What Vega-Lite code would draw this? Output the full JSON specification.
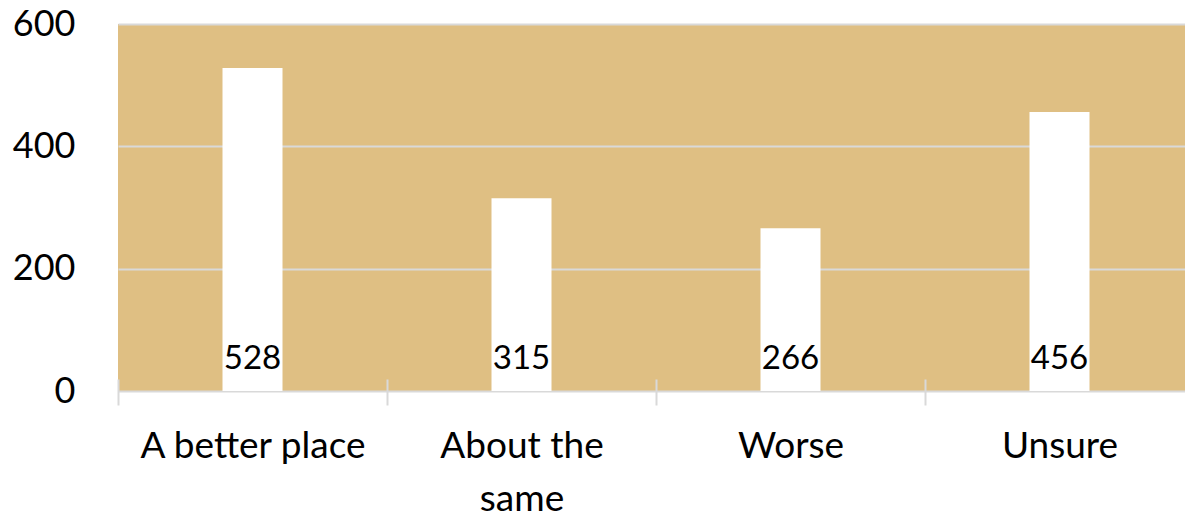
{
  "$schema": "https://vega.github.io/schema/vega-lite/v6.json",
  "autosize": {"type": "none"},
  "padding": {"left": 118, "top": 24, "right": 0, "bottom": 127},
  "width": 1076,
  "height": 367,
  "background": "white",
  "config": {
    "font": "Lato",
    "view": {"fill": "#dfbf83", "stroke": null}
  },
  "data": {
    "values": [
      {"category": "A better place", "count": 528},
      {"category": "About the same", "count": 315},
      {"category": "Worse", "count": 266},
      {"category": "Unsure", "count": 456}
    ]
  },
  "encoding": {
    "x": {
      "field": "category",
      "type": "nominal",
      "sort": null,
      "scale": {"paddingInner": 0, "paddingOuter": 0},
      "axis": {
        "title": null,
        "labelAngle": 0,
        "domain": false,
        "offset": -12,
        "tickBand": "extent",
        "tickSize": 26,
        "tickColor": "#d9d9d9",
        "tickWidth": 2,
        "labelFontSize": 37,
        "labelColor": "#000000",
        "labelPadding": 23,
        "labelLimit": 0,
        "labelLineHeight": 53,
        "labelExpr": "datum.label == 'About the same' ? ['About the', 'same'] : datum.label"
      }
    }
  },
  "layer": [
    {
      "mark": {"type": "bar", "width": 60, "color": "#ffffff"},
      "encoding": {
        "y": {
          "field": "count",
          "type": "quantitative",
          "scale": {"domain": [0, 600], "nice": false},
          "axis": {
            "title": null,
            "values": [0, 200, 400, 600],
            "domain": false,
            "ticks": false,
            "grid": true,
            "gridColor": "#d9d9d9",
            "gridWidth": 2,
            "labelFontSize": 36,
            "labelColor": "#000000",
            "labelPadding": 43
          }
        }
      }
    },
    {
      "mark": {"type": "text", "fontSize": 33, "color": "#000000", "baseline": "alphabetic", "dy": -22},
      "encoding": {
        "y": {"datum": 0, "type": "quantitative"},
        "text": {"field": "count", "type": "quantitative"}
      }
    }
  ]
}
